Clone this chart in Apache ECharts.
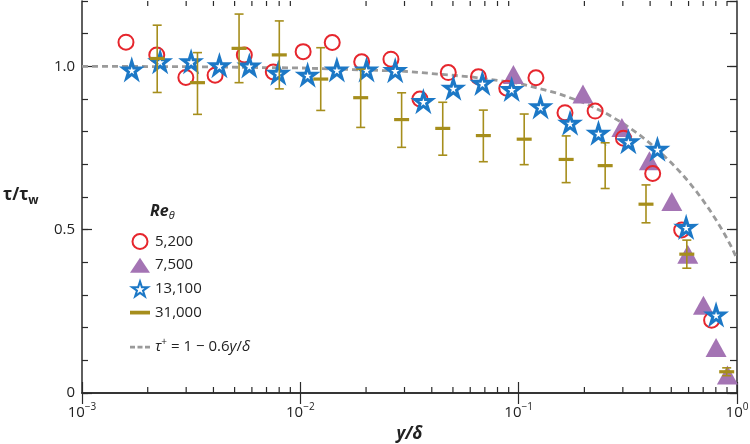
<!DOCTYPE html>
<html><head><meta charset="utf-8">
<script src="https://cdn.jsdelivr.net/npm/echarts@6/dist/echarts.min.js"></script>
<style>html,body{margin:0;padding:0;background:#fff}#c{width:750px;height:444px}</style>
</head><body><div id="c"></div>
<script>
// ---- data ----
const circleX = [0.00159, 0.00220, 0.00299, 0.00407, 0.00554, 0.00752, 0.0103, 0.0140, 0.0191, 0.0260, 0.0353, 0.0476, 0.0654, 0.0882, 0.120, 0.163, 0.224, 0.302, 0.411, 0.558, 0.765];
const circleY = [1.074, 1.035, 0.966, 0.973, 1.035, 0.983, 1.045, 1.073, 1.014, 1.022, 0.900, 0.981, 0.968, 0.933, 0.965, 0.858, 0.863, 0.780, 0.672, 0.499, 0.223];

const triX = [0.0946, 0.197, 0.297, 0.397, 0.503, 0.595, 0.702, 0.802, 0.904];
const triY = [0.975, 0.915, 0.813, 0.711, 0.586, 0.425, 0.269, 0.139, 0.055];

const starX = [0.00169, 0.00228, 0.00316, 0.00426, 0.00584, 0.00793, 0.0108, 0.0147, 0.0201, 0.0272, 0.0366, 0.0502, 0.0682, 0.0929, 0.126, 0.172, 0.232, 0.318, 0.432, 0.585, 0.802];
const starY = [0.989, 1.014, 1.014, 1.002, 1.001, 0.979, 0.973, 0.989, 0.989, 0.987, 0.892, 0.933, 0.948, 0.929, 0.876, 0.826, 0.795, 0.769, 0.746, 0.507, 0.239];

const goldX    = [0.00221, 0.00338, 0.00524, 0.00801, 0.0124, 0.0189, 0.0291, 0.0449, 0.0689, 0.106, 0.165, 0.249, 0.383, 0.589, 0.897];
const goldY    = [1.024, 0.950, 1.055, 1.035, 0.961, 0.904, 0.837, 0.810, 0.788, 0.777, 0.715, 0.696, 0.578, 0.425, 0.065];
const goldHigh = [1.126, 1.042, 1.160, 1.139, 1.057, 0.991, 0.919, 0.890, 0.866, 0.854, 0.787, 0.766, 0.637, 0.468, 0.077];
const goldLow  = [0.920, 0.853, 0.950, 0.931, 0.865, 0.813, 0.752, 0.728, 0.708, 0.699, 0.644, 0.626, 0.521, 0.382, 0.053];

const lineX = [0.001, 0.003, 0.01, 0.03, 0.06, 0.1, 0.15, 0.2, 0.25, 0.3, 0.35, 0.4, 0.45, 0.5, 0.55, 0.6, 0.65, 0.7, 0.75, 0.8, 0.85, 0.9, 0.95, 1.0];
const lineY = [1.0, 0.999, 0.995, 0.985, 0.968, 0.948, 0.918, 0.888, 0.857, 0.826, 0.795, 0.764, 0.734, 0.705, 0.676, 0.647, 0.618, 0.589, 0.560, 0.531, 0.502, 0.473, 0.443, 0.410];

const xMinorTicks = [0.002,0.003,0.004,0.005,0.006,0.007,0.008,0.009, 0.02,0.03,0.04,0.05,0.06,0.07,0.08,0.09, 0.2,0.3,0.4,0.5,0.6,0.7,0.8,0.9];
const yTickLabels = ['0', '0.5', '1.0'];

const names = ['5,200', '7,500', '13,100', '31,000'];
const TAU = 'tau';

// ---- styles ----
const FONT = 'Open Sans';
const RED = '#e6262d', PURPLE = '#a474b4', BLUE = '#1c78c6', GOLD = '#a68e1c', GRAY = '#9a9a9a', AXIS = '#2a2a2a';
const STAR = 'path://M50,0 L61.2,34.6 L97.55,34.55 L68.1,55.9 L79.39,90.45 L50,69 L20.61,90.45 L31.9,55.9 L2.45,34.55 L38.8,34.6 Z';

const zip = (a, b) => a.map((v, i) => [v, b[i]]);

const chart = echarts.init(document.getElementById('c'), null, {renderer: 'canvas'});

const xBase = {
  type: 'log', logBase: 10, min: 0.001, max: 1,
  axisLine: {show: true, lineStyle: {color: AXIS, width: 1.5}},
  axisTick: {show: true, inside: true, length: 11, lineStyle: {color: AXIS, width: 1.2}},
  splitLine: {show: false}, minorTick: {show: false}
};
const yBase = {
  type: 'value', min: 0, max: 1.2,
  splitLine: {show: false},
  axisLine: {show: true, lineStyle: {color: AXIS, width: 1.5}},
};

chart.setOption({
  animation: false,
  grid: {left: 82, right: 13, top: 1, bottom: 51, containLabel: false, outerBoundsMode: 'none'},
  xAxis: [
    Object.assign({}, xBase, {
      position: 'bottom',
      name: 'y/δ', nameLocation: 'middle', nameGap: 32,
      nameTextStyle: {fontFamily: FONT, fontSize: 17, fontWeight: 'bold', fontStyle: 'italic', color: '#222'},
      axisLabel: {
        margin: 9, color: '#222', fontFamily: FONT,
        formatter: v => {
          const e = Math.round(Math.log10(v));
          return '{b|10}{s|' + (e < 0 ? '−' + (-e) : String(e)) + '}';
        },
        rich: {
          b: {fontSize: 15, lineHeight: 22, fontFamily: FONT, color: '#222'},
          s: {fontSize: 10, lineHeight: 11, verticalAlign: 'top', fontFamily: FONT, color: '#222'}
        }
      }
    }),
    Object.assign({}, xBase, {position: 'top', axisLabel: {show: false}})
  ],
  yAxis: [
    Object.assign({}, yBase, {
      position: 'left', interval: 0.5,
      axisTick: {show: true, inside: true, length: 10, lineStyle: {color: AXIS, width: 1.2}},
      axisLabel: {
        margin: 7, fontFamily: FONT, fontSize: 15, color: '#222', showMaxLabel: false,
        formatter: v => { const i = Math.round(v / 0.5); return (Math.abs(v - i * 0.5) < 1e-6 && i < yTickLabels.length) ? yTickLabels[i] : ''; }
      }
    }),
    Object.assign({}, yBase, {
      position: 'left', interval: 0.1, axisLine: {show: false}, axisLabel: {show: false},
      axisTick: {show: true, inside: true, length: 6, lineStyle: {color: AXIS, width: 1.2}}
    }),
    Object.assign({}, yBase, {
      position: 'right', interval: 0.5, axisLabel: {show: false},
      axisTick: {show: true, inside: true, length: 10, lineStyle: {color: AXIS, width: 1.2}}
    }),
    Object.assign({}, yBase, {
      position: 'right', interval: 0.1, axisLine: {show: false}, axisLabel: {show: false},
      axisTick: {show: true, inside: true, length: 7, lineStyle: {color: AXIS, width: 1.2}}
    })
  ],
  legend: [
    {
      orient: 'vertical', left: 130, top: 233, padding: 0, itemGap: 7.7,
      itemWidth: 20, itemHeight: 15, selectedMode: false,
      textStyle: {fontFamily: FONT, fontSize: 15, color: '#222', lineHeight: 15},
      data: [
        {name: names[0]}, {name: names[1]}, {name: names[2]},
        {name: names[3], icon: 'path://M0,0H16V3H0Z'}
      ]
    },
    {
      orient: 'vertical', left: 130, top: 337, padding: 0,
      itemWidth: 20, itemHeight: 15, selectedMode: false,
      formatter: () => '{i|τ}{p|+}{n| = 1 − 0.6}{i|y}{n|/}{i|δ}',
      textStyle: {
        fontFamily: FONT, fontSize: 15, color: '#222',
        rich: {
          i: {fontFamily: FONT, fontSize: 15, fontStyle: 'italic', lineHeight: 20, color: '#222'},
          n: {fontFamily: FONT, fontSize: 15, lineHeight: 20, color: '#222'},
          p: {fontFamily: FONT, fontSize: 10, lineHeight: 11, verticalAlign: 'top', color: '#222'}
        }
      },
      data: [{name: TAU, icon: 'path://M0,0H4V2.2H0Z M6,0H10V2.2H6Z M12,0H16V2.2H12Z'}]
    }
  ],
  graphic: [
    {
      type: 'text', left: 150, top: 203,
      style: {
        text: '{a|Re}{b|θ}',
        rich: {
          a: {fontFamily: FONT, fontSize: 16, fontWeight: 'bold', fontStyle: 'italic', lineHeight: 20, fill: '#222'},
          b: {fontFamily: FONT, fontSize: 11, fontStyle: 'italic', lineHeight: 11, verticalAlign: 'bottom', fill: '#222'}
        }
      }
    },
    {
      type: 'text', left: 3, top: 187,
      style: {
        text: '{a|τ/τ}{b|w}',
        rich: {
          a: {fontFamily: FONT, fontSize: 17, fontWeight: 'bold', lineHeight: 22, fill: '#222'},
          b: {fontFamily: FONT, fontSize: 12, fontWeight: 'bold', lineHeight: 12, verticalAlign: 'bottom', fill: '#222'}
        }
      }
    }
  ],
  series: [
    {
      name: TAU, type: 'line', xAxisIndex: 0, yAxisIndex: 0, z: 1,
      data: zip(lineX, lineY), showSymbol: false, symbol: 'none', smooth: false,
      color: GRAY, lineStyle: {color: GRAY, width: 2.8, type: [6, 4]}, silent: true
    },
    {
      name: names[1], type: 'scatter', z: 2, symbol: 'triangle', symbolSize: [21, 19],
      data: zip(triX, triY), itemStyle: {color: PURPLE, opacity: 1}, silent: true
    },
    {
      name: names[0], type: 'scatter', z: 3, symbol: 'circle', symbolSize: 15,
      data: zip(circleX, circleY),
      itemStyle: {color: 'rgba(255,255,255,0)', borderColor: RED, borderWidth: 2, opacity: 1}, silent: true
    },
    {
      name: names[2], type: 'scatter', z: 4, symbol: STAR, symbolSize: 17,
      data: zip(starX, starY),
      itemStyle: {color: '#ffffff', borderColor: BLUE, borderWidth: 3, opacity: 1}, silent: true
    },
    {
      name: 'err', type: 'custom', z: 5, silent: true,
      data: goldX.map((v, i) => [v, goldLow[i], goldHigh[i]]),
      encode: {x: 0, y: [1, 2]},
      renderItem: (params, api) => {
        const x = api.value(0), lo = api.value(1), hi = api.value(2);
        const a = api.coord([x, lo]), b = api.coord([x, hi]);
        const cap = 4.5;
        const st = {stroke: GOLD, lineWidth: 1.6, fill: null};
        return {type: 'group', children: [
          {type: 'line', shape: {x1: a[0], y1: a[1], x2: b[0], y2: b[1]}, style: st},
          {type: 'line', shape: {x1: a[0] - cap, y1: a[1], x2: a[0] + cap, y2: a[1]}, style: st},
          {type: 'line', shape: {x1: b[0] - cap, y1: b[1], x2: b[0] + cap, y2: b[1]}, style: st}
        ]};
      }
    },
    {
      name: names[3], type: 'scatter', z: 6, symbol: 'rect', symbolSize: [15, 3.2],
      data: zip(goldX, goldY), itemStyle: {color: GOLD, opacity: 1}, silent: true
    },
    {
      name: 'xminor', type: 'custom', z: 7, silent: true, clip: false,
      data: xMinorTicks.map(v => [v, 0]),
      encode: {x: 0, y: 1},
      renderItem: (params, api) => {
        const cs = params.coordSys;
        const x = api.coord([api.value(0), 0])[0];
        const st = {stroke: AXIS, lineWidth: 1.2, fill: null};
        return {type: 'group', children: [
          {type: 'line', shape: {x1: x, y1: cs.y + cs.height, x2: x, y2: cs.y + cs.height - 6}, style: st},
          {type: 'line', shape: {x1: x, y1: cs.y, x2: x, y2: cs.y + 5}, style: st}
        ]};
      }
    }
  ]
});
</script>
</body></html>
